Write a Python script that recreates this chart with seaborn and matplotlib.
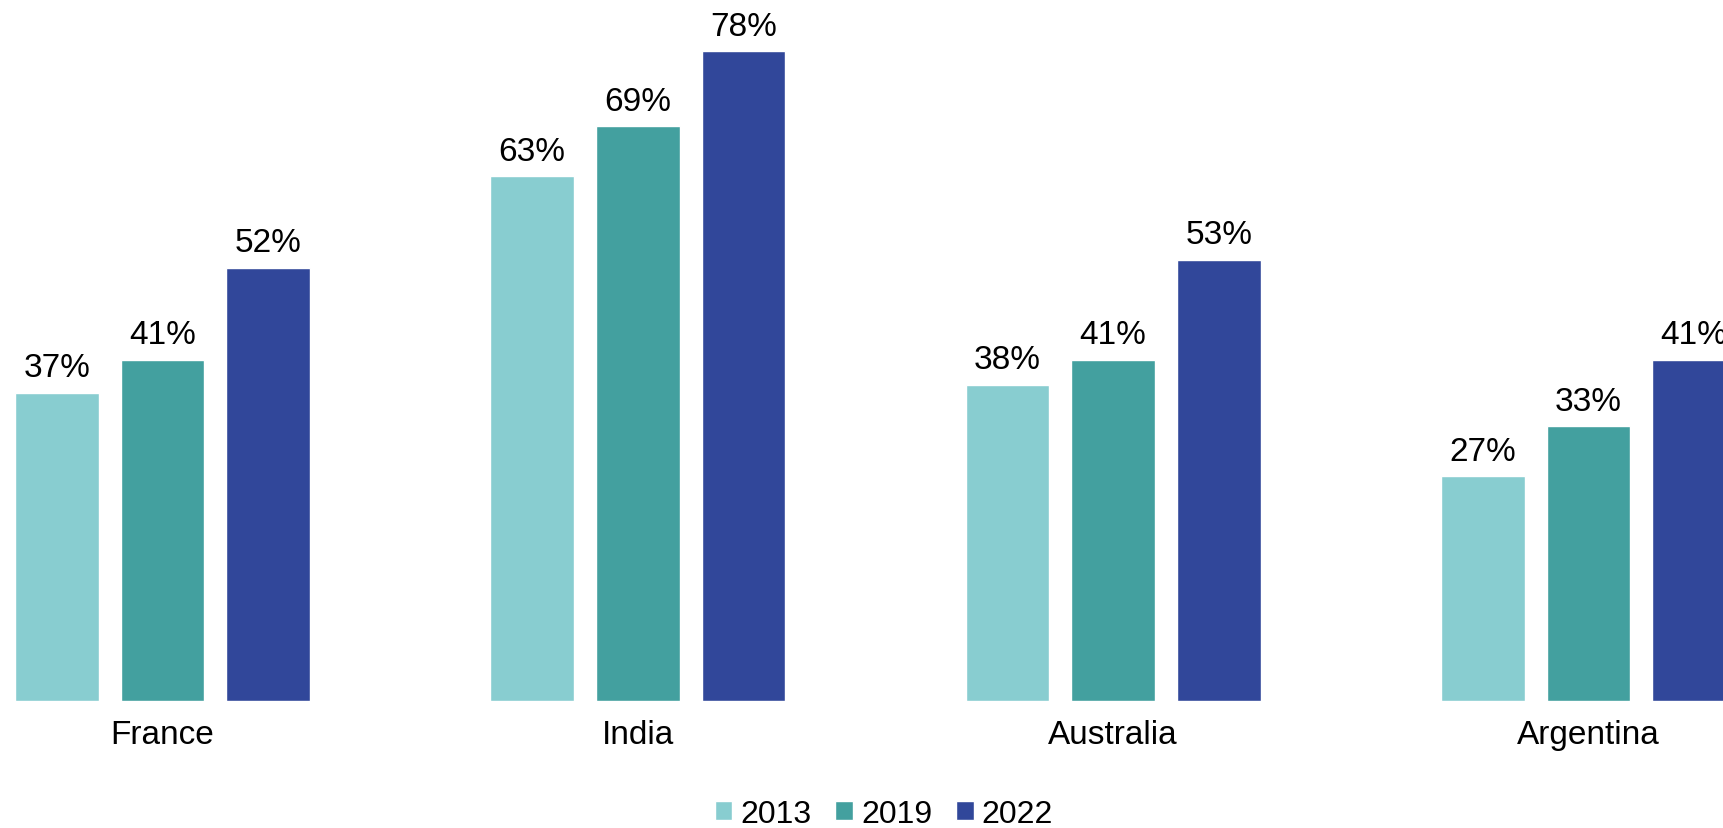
import pandas as pd
import matplotlib
matplotlib.use("Agg")
import matplotlib.pyplot as plt
import seaborn as sns

sns.set_style("white")
plt.rcParams['font.family'] = ['Liberation Sans', 'DejaVu Sans']
plt.rcParams['text.color'] = 'black'
plt.rcParams['xtick.color'] = 'black'

paises = ['France', 'India', 'Australia', 'Argentina']
anos = ['2013', '2019', '2022']
v2013 = [37, 63, 38, 27]
v2019 = [41, 69, 41, 33]
v2022 = [52, 78, 53, 41]
cores = ['#88CDD0', '#43A09F', '#31479A']

df = pd.DataFrame({
    'Pais': paises * 3,
    'Ano': [a for a in anos for _ in paises],
    'Valor': v2013 + v2019 + v2022,
})

fig = plt.figure(figsize=(17.23, 8.29), dpi=100)
ax = fig.add_axes([0, 0.153, 1, 0.847])
sns.barplot(data=df, x='Pais', y='Valor', hue='Ano', palette=cores,
            width=0.667, gap=0.21, ax=ax, legend=True, saturation=1)

for c in ax.containers:
    ax.bar_label(c, fmt='{:.0f}%', padding=7, fontsize=24, color='black')

ax.set_xlim(-0.342, 3.283)
ax.set_ylim(0, 84.3)
ax.set_xlabel('')
ax.set_ylabel('')
ax.set_yticks([])
ax.tick_params(axis='x', length=0, pad=13, labelsize=24, labelcolor='black')
sns.despine(ax=ax, left=True, bottom=True)

handles, labels = ax.get_legend_handles_labels()
ax.get_legend().remove()
fig.legend(handles, labels, loc='center', bbox_to_anchor=(0.513, 0.017),
           ncol=3, frameon=False, fontsize=23, handlelength=0.55,
           handleheight=0.55, handletextpad=0.25, columnspacing=0.75,
           borderpad=0, labelcolor='black')

fig.savefig('out.png', dpi=100)
